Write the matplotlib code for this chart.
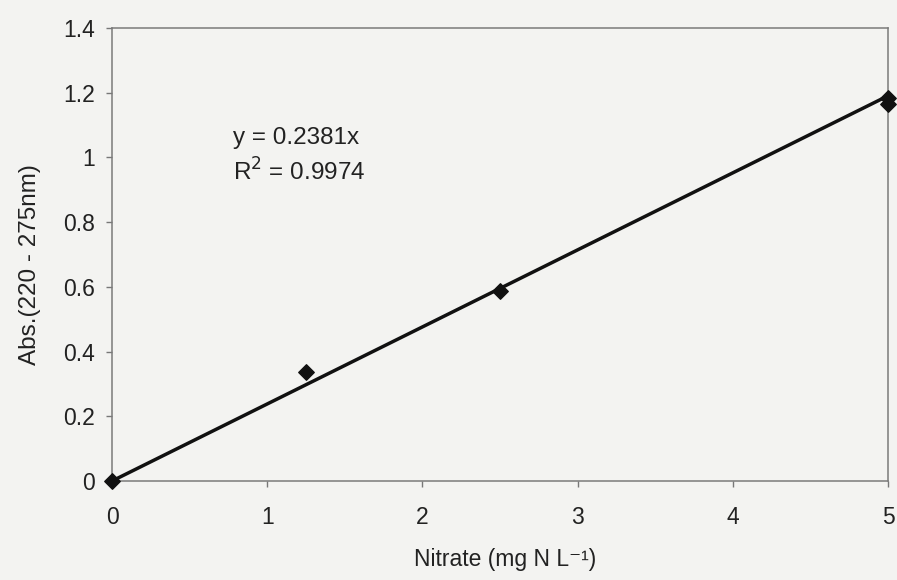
import numpy as np
import matplotlib
matplotlib.use("Agg")
import matplotlib.pyplot as plt

# calibration points
nitrate = [0.0, 1.25, 2.5, 5.0, 5.0]
absorb = [0.0, 0.337, 0.588, 1.185, 1.166]
slope = 0.2381
fit_x = [0.0, 5.0]
x_ticks = [0, 1, 2, 3, 4, 5]
y_ticks = [0, 0.2, 0.4, 0.6, 0.8, 1.0, 1.2, 1.4]
y_ticklabels = ["0", "0.2", "0.4", "0.6", "0.8", "1", "1.2", "1.4"]

plt.rcParams["font.family"] = ["Liberation Sans", "DejaVu Sans"]
BG = "#f3f3f1"
INK = "#222222"

fig = plt.figure(figsize=(8.97, 5.80), dpi=100, facecolor=BG)
ax = fig.add_axes([0.1249, 0.1707, 0.8651, 0.781])
ax.set_facecolor(BG)

ax.plot(fit_x, [slope * v for v in fit_x], color="#111111", lw=2.5, zorder=2)
ax.scatter(nitrate, absorb, marker="D", s=62, color="#111111", zorder=3, clip_on=False)

ax.set_xlim(0, 5); ax.set_ylim(0, 1.4)
ax.set_xticks(x_ticks)
ax.set_yticks(y_ticks)
ax.set_yticklabels(y_ticklabels)
ax.tick_params(colors="#777777", labelcolor=INK, labelsize=16.5, length=4, width=1)
ax.tick_params(axis="x", pad=14)
ax.tick_params(axis="y", pad=8)
for sp in ax.spines.values():
    sp.set_color("#7a7a7a"); sp.set_linewidth(1.1)

ax.text(0.78, 1.06, "y = 0.2381x", fontsize=17.5, color=INK, va="center")
ax.text(0.78, 0.955, "R$^2$ = 0.9974", fontsize=17.5, color=INK, va="center")

ax.set_xlabel("Nitrate (mg N L\u207b\u00b9)", fontsize=16.5, color=INK)
ax.xaxis.set_label_coords(0.506, -0.148)
ax.set_ylabel("Abs.(220 - 275nm)", fontsize=17.5, color=INK)
ax.yaxis.set_label_coords(-0.092, 0.477)

fig.savefig("out.png", dpi=100, facecolor=BG)
